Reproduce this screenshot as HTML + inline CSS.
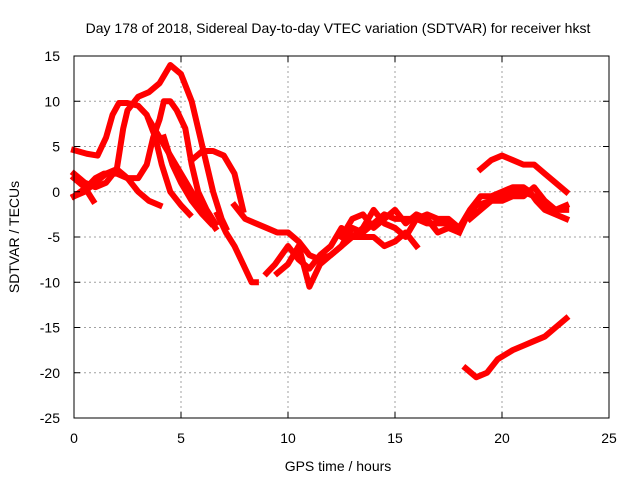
<!DOCTYPE html>
<html><head><meta charset="utf-8"><style>
body{margin:0;background:#fff}
svg{display:block;font-family:"Liberation Sans",sans-serif}
</style></head><body>
<svg id="chart" width="640" height="480">
<text x="338" y="33" text-anchor="middle" font-size="14">Day 178 of 2018, Sidereal Day-to-day VTEC variation (SDTVAR) for receiver hkst</text>
<text x="338" y="471" text-anchor="middle" font-size="14">GPS time / hours</text>
<text transform="translate(19,237) rotate(-90)" text-anchor="middle" font-size="14">SDTVAR / TECUs</text>
<g id="grid"></g><g id="series"></g><g id="axes"></g>
</svg>
<script>
const xTicks=[0,5,10,15,20,25];
const yTicks=[-25,-20,-15,-10,-5,0,5,10,15];
const trackA=[[0,4.6],[0.6,4.2],[1.1,4],[1.5,6],[1.8,8.5],[2.1,9.8],[2.5,9.8],[3,9.5],[3.4,8.5],[3.8,6],[4.1,3],[4.5,0],[5,-1.5],[5.4,-2.5]];
const trackB=[[0,-0.5],[0.6,0.5],[1,1.5],[1.4,2],[2,2],[2.5,1.5],[3,1.5],[3.4,3],[3.7,6],[4,8],[4.2,10],[4.5,10],[4.8,9],[5.2,7],[5.5,3],[5.8,0],[6.2,-2],[6.6,-3.5]];
const trackC=[[0,2],[0.5,1],[1,0.5],[1.5,1],[2,2.5],[2.3,7],[2.5,9],[3,10.5],[3.5,11],[4,12],[4.5,14],[5,13],[5.5,10],[5.9,6],[6.2,3],[6.5,0],[6.9,-3],[7.1,-4]];
const trackD=[[3.5,8],[4,6],[4.5,4],[5,2],[5.5,0],[6,-2],[6.6,-4]];
const trackD2=[[4.2,6],[4.6,3],[5,1],[5.5,-1],[6,-2.5],[6.4,-3.5]];
const trackE=[[0,-0.5],[0.5,0],[1,1],[1.5,2],[2,2.5],[2.5,1.5],[3,0],[3.5,-1],[4,-1.5]];
const trackF=[[0,1.5],[0.5,0.5],[0.9,-1]];
const trackG=[[5.5,3.5],[6,4.5],[6.5,4.5],[7,4],[7.5,2],[7.8,-1],[7.9,-2]];
const trackH=[[6.7,-2.5],[7.1,-4.5],[7.5,-6],[7.9,-8],[8.3,-10],[8.5,-10]];
const trackI=[[7.5,-1.5],[8,-3],[8.5,-3.5],[9,-4],[9.5,-4.5],[10,-4.5],[10.5,-5.5],[11,-7],[11.5,-7.5],[12,-7],[12.5,-6],[13,-4],[13.5,-4.5],[14,-3.5],[14.5,-2.5],[15,-3],[15.5,-3],[16,-3],[16.5,-3.5],[17,-3.5],[17.5,-3.5],[18,-4.5],[18.3,-3],[18.8,-1.5],[19.5,-1],[20,-0.5],[20.5,0],[21,0],[21.5,-0.5],[22,-1.5],[22.5,-2],[23,-1.5]];
const trackJ=[[9,-9],[9.4,-8],[10,-6],[10.5,-7.5],[11,-8.5],[11.5,-7],[12,-6],[12.5,-4],[13,-5],[13.5,-4],[14,-2],[14.5,-3.5],[15,-4],[15.5,-5],[16,-3],[16.5,-2.5],[17,-3],[17.5,-3],[18,-4],[18.5,-2],[19,-0.5],[19.5,-0.5],[20,0],[20.5,0.5],[21,0.5],[21.3,0],[21.6,-1],[22,-2],[22.5,-2.5],[23,-3]];
const trackK=[[9.5,-9],[10,-8],[10.5,-6],[11,-10.5],[11.5,-8],[12,-7],[12.5,-6],[13,-5],[14,-5],[14.5,-6],[15,-5.5],[15.5,-4.5],[16,-6]];
const trackP=[[12.5,-5],[13,-3],[13.5,-2.5],[14,-4],[14.5,-3],[15,-2],[15.5,-3.5],[16,-2.5],[16.5,-3],[17,-4.5],[17.5,-4],[18,-4.5]];
const trackM=[[19,2.5],[19.5,3.5],[20,4],[20.5,3.5],[21,3],[21.5,3],[22,2],[22.5,1],[23,0]];
const trackN=[[18.3,-19.5],[18.8,-20.5],[19.3,-20],[19.8,-18.5],[20.5,-17.5],[21,-17],[21.5,-16.5],[22,-16],[22.5,-15],[23,-14]];
const trackO=[[18.5,-3],[19,-2],[19.5,-1],[20,-1],[20.5,-0.5],[21,-0.5],[21.5,0.5],[22,-1],[22.5,-2],[23,-2]];
const tracks=[trackA,trackB,trackC,trackD,trackD2,trackE,trackF,trackG,trackH,trackI,trackJ,trackK,trackP,trackM,trackN,trackO];

const L=74,R=609,T=56,B=418;
const xs=h=>L+(h-0)/(25-0)*(R-L);
const ys=v=>B-(v+25)/40*(B-T);
const NS="http://www.w3.org/2000/svg";
function mk(tag,attrs,parent){const e=document.createElementNS(NS,tag);for(const k in attrs)e.setAttribute(k,attrs[k]);parent.appendChild(e);return e;}
const grid=document.getElementById('grid'),axes=document.getElementById('axes'),series=document.getElementById('series');
xTicks.forEach(t=>{
  const x=xs(t);
  if(t>0&&t<25){const g=mk('line',{x1:x,x2:x,y1:T,y2:B,stroke:'#a0a0a0','stroke-dasharray':'2,3'},grid);
  
  }
  mk('line',{x1:x,x2:x,y1:B,y2:B-6,stroke:'#000'},axes);
  mk('line',{x1:x,x2:x,y1:T,y2:T+6,stroke:'#000'},axes);
  const lb=mk('text',{x:x,y:B+25,'text-anchor':'middle','font-size':14},axes);
  lb.textContent=t;
  
  
});
yTicks.forEach(t=>{
  const y=ys(t);
  if(t>-25&&t<15){const g=mk('line',{x1:L,x2:R,y1:y,y2:y,stroke:'#a0a0a0','stroke-dasharray':'2,3'},grid);
  
  }
  mk('line',{x1:L,x2:L+6,y1:y,y2:y,stroke:'#000'},axes);
  mk('line',{x1:R,x2:R-6,y1:y,y2:y,stroke:'#000'},axes);
  const lb=mk('text',{x:L-14,y:y+5,'text-anchor':'end','font-size':14},axes);
  lb.textContent=t;
  
  
});
const fr=mk('rect',{x:L,y:T,width:R-L,height:B-T,fill:'none',stroke:'#000'},axes);


tracks.forEach(tr=>{
  const p=mk('polyline',{points:tr.map(d=>xs(d[0])+','+ys(d[1])).join(' '),fill:'none',stroke:'#ff0000','stroke-width':6,'stroke-linejoin':'round','stroke-linecap':'square'},series);
  
  
});
</script>
</body></html>
